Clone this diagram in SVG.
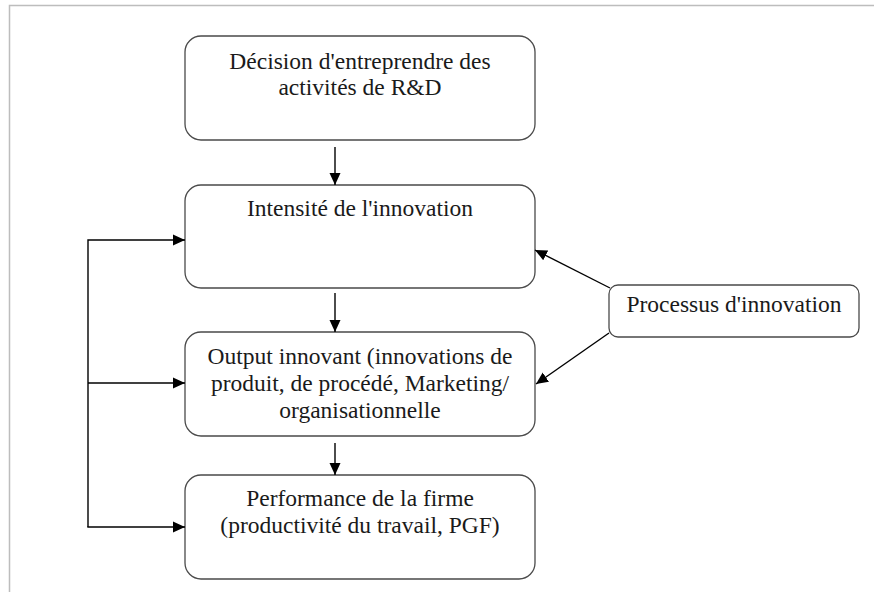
<svg xmlns="http://www.w3.org/2000/svg" width="874" height="592" viewBox="0 0 874 592">
<defs>
<marker id="ah" viewBox="0 0 12 12" refX="12" refY="6" markerWidth="12" markerHeight="12" markerUnits="userSpaceOnUse" orient="auto">
<path d="M0,0.5 L12,6 L0,11.5 z" fill="#000"/>
</marker>
<style>
.box{fill:#fff;stroke:#4a4a4a;stroke-width:1.3}
.t{font-family:"Liberation Serif","Times New Roman",serif;font-size:23.5px;fill:#1a1a1a;text-anchor:middle}
.c{fill:none;stroke:#000;stroke-width:1.4}
.frame{fill:none;stroke:#bdbdbd;stroke-width:1.5}
</style>
</defs>
<rect width="874" height="592" fill="#fff"/>
<path class="frame" d="M9.5,592 V5.5 H874"/>
<g id="n1">
<rect class="box" x="185" y="36" width="350" height="104" rx="16"/>
<text class="t" x="360" y="69">Décision d'entreprendre des</text>
<text class="t" x="360" y="95">activités de R&amp;D</text>
</g>
<g id="n2">
<rect class="box" x="185" y="185" width="350" height="103" rx="16"/>
<text class="t" x="360" y="216">Intensité de l'innovation</text>
</g>
<g id="n3">
<rect class="box" x="185" y="332" width="350" height="104" rx="16"/>
<text class="t" x="360" y="364">Output innovant (innovations de</text>
<text class="t" x="360" y="391">produit, de procédé, Marketing/</text>
<text class="t" x="360" y="418">organisationnelle</text>
</g>
<g id="n4">
<rect class="box" x="185" y="475" width="350" height="104" rx="16"/>
<text class="t" x="360" y="506">Performance de la firme</text>
<text class="t" x="360" y="533">(productivité du travail, PGF)</text>
</g>
<g id="n5">
<rect class="box" x="609" y="285" width="250" height="52" rx="9"/>
<text class="t" x="734" y="312">Processus d'innovation</text>
</g>
<g id="connectors">
<line class="c" x1="335" y1="147" x2="335" y2="185" marker-end="url(#ah)"/>
<line class="c" x1="335" y1="293" x2="335" y2="332" marker-end="url(#ah)"/>
<line class="c" x1="335" y1="443" x2="335" y2="475" marker-end="url(#ah)"/>
<path class="c" d="M88,527 V240 H185" marker-end="url(#ah)"/>
<line class="c" x1="88" y1="383" x2="185" y2="383" marker-end="url(#ah)"/>
<line class="c" x1="87.3" y1="527" x2="185" y2="527" marker-end="url(#ah)"/>
<line class="c" x1="610" y1="288" x2="535" y2="250" marker-end="url(#ah)"/>
<line class="c" x1="609" y1="333" x2="536" y2="384" marker-end="url(#ah)"/>
</g>
</svg>
